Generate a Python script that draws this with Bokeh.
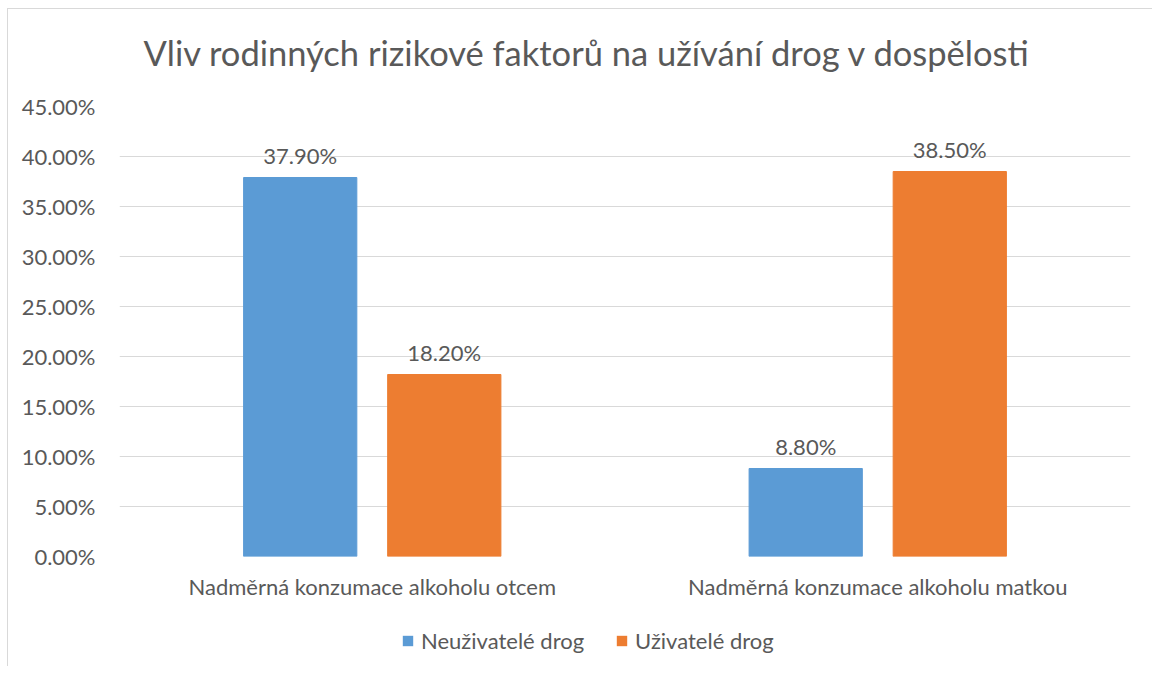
from bokeh.plotting import figure
from bokeh.layouts import column
from bokeh.models import ColumnDataSource, FactorRange, Range1d, FixedTicker, NumeralTickFormatter, Legend, LegendItem
from bokeh.transform import dodge
from bokeh.core.properties import value
from bokeh.embed import file_html
from bokeh.resources import INLINE

title = "Vliv rodinných rizikové faktorů na užívání drog v dospělosti"
categories = ["Nadměrná konzumace alkoholu otcem", "Nadměrná konzumace alkoholu matkou"]
series_names = ["Neuživatelé drog", "Uživatelé drog"]
neuzivatele = [0.379, 0.088]
uzivatele = [0.182, 0.385]
y_ticks = [0.0, 0.05, 0.10, 0.15, 0.20, 0.25, 0.30, 0.35, 0.40, 0.45]

colors = ["#5b9bd5", "#ed7d31"]
FONT = "Lato"
TXT = "#595959"
FS = "22px"
BORDER = "1px solid #d9d9d9"

src = ColumnDataSource(dict(
    cat=categories,
    a=neuzivatele,
    b=uzivatele,
    a_lab=[f"{v*100:.2f}%" for v in neuzivatele],
    b_lab=[f"{v*100:.2f}%" for v in uzivatele],
))

# header strip holding the chart title (frame aligned with the main frame by the column)
hd = figure(x_range=Range1d(0, 1), y_range=Range1d(0, 80), width=1145, height=80,
            output_backend="svg", toolbar_location=None, min_border=0,
            outline_line_color=None, margin=(8, 0, 0, 7),
            styles={"border-top": BORDER, "border-left": BORDER})
hd.axis.visible = False
hd.grid.visible = False
hd.text(x=[0], y=[37], text=[title], x_offset=24, text_align="left", text_baseline="alphabetic",
        text_font=value(FONT), text_font_size="34.5px", text_color=TXT)

p = figure(x_range=FactorRange(*categories, range_padding=0), y_range=Range1d(0, 0.45),
           width=1145, height=528, output_backend="svg", toolbar_location=None,
           min_border_left=111, min_border_right=23, min_border_top=18, min_border_bottom=60,
           outline_line_color=None, margin=(0, 0, 0, 7),
           styles={"border-left": BORDER})

off = 0.1425
w = 0.224
p.vbar(x=dodge("cat", -off, range=p.x_range), top="a", width=w, source=src, color=colors[0])
p.vbar(x=dodge("cat", off, range=p.x_range), top="b", width=w, source=src, color=colors[1])

for col, lab, o in (("a", "a_lab", -off), ("b", "b_lab", off)):
    p.text(x=dodge("cat", o, range=p.x_range), y=col, text=lab, source=src,
           text_align="center", text_baseline="bottom", y_offset=-9,
           text_font=value(FONT), text_font_size=FS, text_color=TXT)

p.yaxis.ticker = FixedTicker(ticks=y_ticks)
p.yaxis.formatter = NumeralTickFormatter(format="0.00%")
for ax in (p.xaxis[0], p.yaxis[0]):
    ax.axis_line_color = None
    ax.major_tick_line_color = None
    ax.minor_tick_line_color = None
    ax.major_tick_out = 0
    ax.major_tick_in = 0
    ax.major_label_text_font = FONT
    ax.major_label_text_font_size = FS
    ax.major_label_text_color = TXT
p.yaxis.major_label_standoff = 24
p.xaxis.major_label_standoff = 16

p.xgrid.grid_line_color = None
p.ygrid.grid_line_color = "#d9d9d9"
p.ygrid.grid_line_width = 1

# legend strip below the chart
lg = figure(x_range=Range1d(0, 1), y_range=Range1d(0, 1), width=1145, height=50,
            output_backend="svg", toolbar_location=None, min_border=0,
            outline_line_color=None, margin=(0, 0, 0, 7), styles={"border-left": BORDER})
lg.axis.visible = False
lg.grid.visible = False
items = []
for name, col in zip(series_names, colors):
    r = lg.vbar(x=[-100], top=[-100], bottom=[-100], width=0.1, fill_color=col, line_color=None)
    items.append(LegendItem(label=name, renderers=[r]))
legend = Legend(items=items, orientation="horizontal", location=(282, 12),
                glyph_width=13, glyph_height=13, label_standoff=7, spacing=31,
                padding=0, margin=0, border_line_color=None, background_fill_alpha=0,
                label_text_font=FONT, label_text_font_size=FS, label_text_color=TXT,
                label_text_baseline="middle")
lg.add_layout(legend, "center")

layout = column(hd, p, lg, spacing=0)
open("out.html", "w").write(file_html(layout, INLINE))
